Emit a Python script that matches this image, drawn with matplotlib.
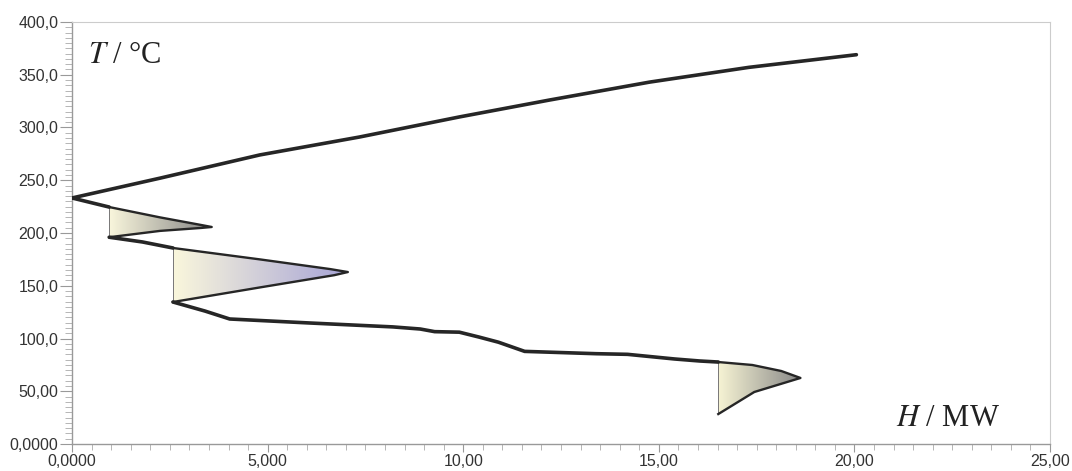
import numpy as np
import matplotlib
matplotlib.use("Agg")
import matplotlib.pyplot as plt
from matplotlib.colors import LinearSegmentedColormap
from matplotlib.patches import Polygon
from matplotlib.ticker import FuncFormatter, MultipleLocator

# hot composite curve (H in MW, T in °C)
hot_H = [0.0, 2.25, 4.8, 7.35, 9.9, 12.2, 14.76, 17.3, 20.05]
hot_T = [233.2, 252.0, 274.0, 291.0, 310.0, 326.0, 343.0, 357.0, 369.0]

# cold curve, pieces between the triangles
cold_a_H = [0.0, 0.95]
cold_a_T = [233.2, 224.6]
cold_b_H = [0.95, 1.8, 2.58]
cold_b_T = [196.0, 191.5, 185.8]
cold_c_H = [2.58, 3.4, 4.03, 6.08, 8.2, 8.9, 9.27, 9.9, 10.4, 10.9, 11.57, 13.4, 14.2, 15.4, 16.04, 16.52]
cold_c_T = [134.6, 126.0, 118.5, 114.7, 111.0, 109.0, 106.5, 106.0, 101.4, 96.5, 87.8, 85.6, 85.0, 80.6, 78.7, 77.7]

# triangles: top-left -> tip -> bottom-left
tri1_H = [0.95, 2.25, 3.3, 3.57, 3.3, 2.25, 0.95]
tri1_T = [224.6, 214.8, 207.6, 205.7, 204.8, 202.0, 196.0]
tri2_H = [2.58, 4.8, 6.6, 7.05, 6.7, 4.8, 2.58]
tri2_T = [185.8, 175.0, 165.8, 163.0, 160.0, 148.4, 134.6]
tri3_H = [16.52, 17.39, 18.13, 18.62, 17.44, 16.52]
tri3_T = [77.7, 74.9, 69.2, 62.6, 49.3, 28.4]

tri_colors = [("#f9f6dc", "#858585"), ("#faf7dc", "#a7a4d6"), ("#f7f4d4", "#888888")]

line_col = "#262626"


def fmt4(v, pos=None):
    if abs(v) < 1e-9:
        return "0,0000"
    digits = int(np.floor(np.log10(abs(v)))) + 1
    dec = max(4 - digits, 0)
    return ("%.*f" % (dec, v)).replace(".", ",")


def main():
    fig = plt.figure(figsize=(10.72, 4.71), dpi=100)
    ax = fig.add_axes([0.0672, 0.0573, 0.9123, 0.896])

    # gradient-filled triangles
    for (th, tt), (c0, c1) in zip([(tri1_H, tri1_T), (tri2_H, tri2_T), (tri3_H, tri3_T)], tri_colors):
        poly = Polygon(np.column_stack([th, tt]), closed=True, facecolor="none", edgecolor="none")
        ax.add_patch(poly)
        cmap = LinearSegmentedColormap.from_list("g", [c0, c1])
        grad = np.linspace(0, 1, 256).reshape(1, -1)
        im = ax.imshow(grad, cmap=cmap, aspect="auto", origin="lower",
                       extent=[min(th), max(th), min(tt), max(tt)], zorder=1, interpolation="bilinear")
        im.set_clip_path(poly)
        ax.plot(th, tt, color=line_col, lw=1.7, zorder=3, solid_joinstyle="round")
        ax.plot([th[0], th[-1]], [tt[0], tt[-1]], color="#777777", lw=0.7, zorder=2)

    ax.plot(hot_H, hot_T, color=line_col, lw=2.6, zorder=4, solid_capstyle="round")
    for hh, tt in [(cold_a_H, cold_a_T), (cold_b_H, cold_b_T), (cold_c_H, cold_c_T)]:
        ax.plot(hh, tt, color=line_col, lw=2.6, zorder=4, solid_capstyle="round")

    ax.set_xlim(0, 25)
    ax.set_ylim(0, 400)
    ax.xaxis.set_major_locator(MultipleLocator(5))
    ax.xaxis.set_minor_locator(MultipleLocator(0.5))
    ax.yaxis.set_major_locator(MultipleLocator(50))
    ax.yaxis.set_minor_locator(MultipleLocator(5))
    ax.xaxis.set_major_formatter(FuncFormatter(fmt4))
    ax.yaxis.set_major_formatter(FuncFormatter(fmt4))

    for s in ["left", "bottom"]:
        ax.spines[s].set_color("#999999")
        ax.spines[s].set_linewidth(1.0)
    for s in ["top", "right"]:
        ax.spines[s].set_color("#cccccc")
        ax.spines[s].set_linewidth(0.8)

    ax.tick_params(which="major", length=9, width=0.8, color="#999999", labelsize=11.5,
                   labelcolor="#333333", pad=1)
    ax.tick_params(which="minor", length=5, width=0.6, color="#aaaaaa")
    ax.tick_params(axis="x", which="major", length=6)
    ax.tick_params(axis="x", which="minor", length=4)
    for lab in ax.get_xticklabels() + ax.get_yticklabels():
        lab.set_family(["Liberation Sans", "DejaVu Sans"])

    ax.text(0.016, 0.92, r"$T$ / °C", transform=ax.transAxes, fontsize=22,
            family="Liberation Serif", math_fontfamily="stix", color="#222222", va="center")
    ax.text(0.843, 0.06, r"$H$ / MW", transform=ax.transAxes, fontsize=22,
            family="Liberation Serif", math_fontfamily="stix", color="#222222", va="center")

    fig.savefig("out.png", dpi=100)


if __name__ == '__main__':
    main()
